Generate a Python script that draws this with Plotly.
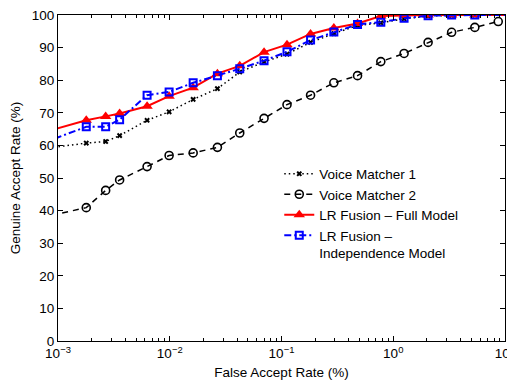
import plotly.graph_objects as go

# False accept rate (%) sample points (first/last lie just outside the visible axis range)
far_main = [0.0007, 0.00179, 0.00267, 0.00356, 0.00627, 0.00987, 0.0162, 0.0267,
            0.0423, 0.0698, 0.112, 0.182, 0.294, 0.479, 0.774, 1.25, 2.05, 3.33,
            5.37, 14.0]
far_vm2 = [0.0007, 0.00179, 0.00267, 0.00356, 0.00627, 0.00987, 0.0162, 0.0267,
           0.0423, 0.0698, 0.112, 0.182, 0.294, 0.479, 0.774, 1.25, 2.05, 3.33,
           5.37, 8.7]

voice1 = [58.9, 60.7, 61.2, 63.0, 67.7, 70.3, 74.1, 77.4, 82.5, 85.6, 88.0, 91.6,
          94.3, 96.8, 97.6, 98.8, 99.7, 99.9, 100.0, 100.0]
voice2 = [37.8, 40.9, 46.2, 49.4, 53.5, 56.9, 57.7, 59.4, 63.8, 68.3, 72.5, 75.4,
          79.2, 81.4, 85.7, 88.2, 91.6, 94.7, 96.2, 98.0]
lr_full = [63.8, 67.7, 68.9, 69.8, 72.0, 75.1, 77.7, 82.0, 84.4, 88.6, 90.9, 94.2,
           96.0, 97.4, 99.7, 99.9, 100.0, 100.0, 100.0, 100.0]
lr_indep = [60.5, 65.7, 65.7, 67.9, 75.4, 76.4, 79.2, 81.4, 83.5, 86.0, 88.7, 92.3,
            94.8, 97.1, 97.8, 99.0, 99.8, 100.0, 100.0, 100.0]

series_names = ["Voice Matcher 1", "Voice Matcher 2", "LR Fusion \u2013 Full Model",
                "LR Fusion \u2013<br>Independence Model"]

x_tick_vals = [0.001, 0.01, 0.1, 1, 10]
x_tick_text = ["10<sup>\u22123</sup>", "10<sup>\u22122</sup>", "10<sup>\u22121</sup>",
               "10<sup>0</sup>", "10<sup>1</sup>"]
y_tick_vals = [0, 10, 20, 30, 40, 50, 60, 70, 80, 90, 100]

minor_vals = [m * d for d in [0.001, 0.01, 0.1, 1] for m in range(2, 10)]

FONT = "Liberation Sans, Arial, Helvetica, sans-serif"

fig = go.Figure()
fig.add_trace(go.Scatter(
    x=far_main, y=voice1, name=series_names[0], mode="lines+markers",
    line=dict(color="black", width=1.5, dash="1.5px,3px"),
    marker=dict(symbol="x", size=5, color="black", line=dict(width=0))))
fig.add_trace(go.Scatter(
    x=far_vm2, y=voice2, name=series_names[1], mode="lines+markers",
    line=dict(color="black", width=1.5, dash="6px,5px"),
    marker=dict(symbol="circle-open", size=8, color="black", line=dict(width=1.6))))
fig.add_trace(go.Scatter(
    x=far_main, y=lr_full, name=series_names[2], mode="lines+markers",
    line=dict(color="#ff0000", width=2),
    marker=dict(symbol="triangle-up", size=10, color="#ff0000")))
fig.add_trace(go.Scatter(
    x=far_main, y=lr_indep, name=series_names[3], mode="lines+markers",
    line=dict(color="#0000ff", width=2, dash="7px,3px,2px,3px"),
    marker=dict(symbol="square-open", size=7, color="#0000ff", line=dict(width=2))))

# the page body keeps its default 8px margin, so the figure is sized to end at 515x382
fig.update_layout(
    width=507, height=374,
    margin=dict(l=50, r=10, t=7, b=41, autoexpand=False),
    paper_bgcolor="white", plot_bgcolor="white",
    font=dict(family=FONT, size=13.5, color="black"),
    showlegend=True,
    legend=dict(x=0.495, y=0.56, xanchor="left", yanchor="top",
                bgcolor="rgba(255,255,255,0)", borderwidth=0,
                font=dict(size=13.5), tracegroupgap=0, valign="top",
                itemwidth=30),
)
fig.update_xaxes(
    type="log", range=[-3, 1], automargin=False, ticklabeloverflow="allow",
    tickmode="array", tickvals=x_tick_vals, ticktext=x_tick_text,
    ticks="inside", ticklen=5, tickcolor="black", tickwidth=1,
    showline=True, linecolor="black", linewidth=1, mirror="ticks",
    showgrid=False, zeroline=False,
    tickfont=dict(size=13.5),
    minor=dict(tickvals=minor_vals, ticks="inside", ticklen=3,
               tickcolor="black", tickwidth=1, showgrid=False),
    title=dict(text="False Accept Rate (%)", font=dict(size=13.5), standoff=7),
)
fig.update_yaxes(
    range=[0, 100], tickmode="array", tickvals=y_tick_vals, automargin=False,
    ticklabeloverflow="allow",
    ticks="inside", ticklen=5, tickcolor="black", tickwidth=1,
    showline=True, linecolor="black", linewidth=1, mirror="ticks",
    showgrid=False, zeroline=False,
    tickfont=dict(size=13.5),
    title=dict(text="Genuine Accept Rate (%)", font=dict(size=13.5), standoff=10),
)

fig.write_html("out.html", config={"displayModeBar": False})
